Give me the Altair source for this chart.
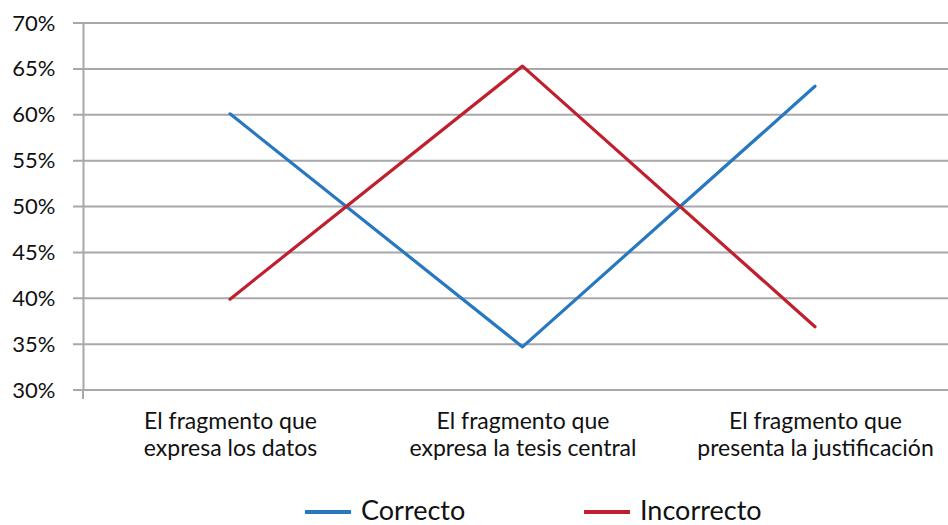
import altair as alt
import pandas as pd

categories = [
    "El fragmento que\nexpresa los datos",
    "El fragmento que\nexpresa la tesis central",
    "El fragmento que\npresenta la justificación",
]
series = ["Correcto", "Incorrecto"]
correcto = [0.601, 0.347, 0.631]
incorrecto = [0.399, 0.653, 0.369]
y_ticks = [0.30, 0.35, 0.40, 0.45, 0.50, 0.55, 0.60, 0.65, 0.70]
colors = ["#2878C0", "#C0202E"]

rows = []
for i, c in enumerate(categories):
    rows.append({"cat": c, "serie": series[0], "valor": correcto[i]})
    rows.append({"cat": c, "serie": series[1], "valor": incorrecto[i]})
df = pd.DataFrame(rows)
grid_df = pd.DataFrame({"valor": y_ticks})

W, H = 865, 367
GRID = "#A8A8AC"
FONT = "Lato"

y_scale = alt.Scale(domain=[0.3, 0.7], nice=False, zero=False)
y_axis = alt.Axis(
    title=None,
    values=y_ticks,
    format=".0%",
    ticks=False,
    labelPadding=28,
    labelFont=FONT,
    labelFontSize=22,
    labelColor="#111111",
    domainColor=GRID,
    domainWidth=2,
    grid=False,
)

grid = alt.Chart(grid_df).mark_rule(color=GRID, strokeWidth=2).encode(
    y=alt.Y("valor:Q", scale=y_scale, axis=y_axis),
    x=alt.value(-10),
    x2=alt.value(W),
)

lines = alt.Chart(df).mark_line(strokeWidth=3.2, strokeCap="round", strokeJoin="round").encode(
    x=alt.X(
        "cat:N",
        sort=categories,
        scale=alt.Scale(type="point", range=[147, 732], padding=0),
        axis=alt.Axis(
            title=None,
            labelExpr="split(datum.label, '\\n')",
            labelAngle=0,
            ticks=False,
            tickSize=0,
            labelPadding=20,
            labelLimit=500,
            labelFont=FONT,
            labelFontSize=23,
            labelLineHeight=27,
            labelColor="#111111",
            domain=False,
            grid=False,
        ),
    ),
    y=alt.Y("valor:Q", scale=y_scale, axis=y_axis),
    color=alt.Color(
        "serie:N",
        sort=series,
        scale=alt.Scale(domain=series, range=colors),
        legend=alt.Legend(
            title=None,
            orient="none",
            direction="horizontal",
            legendX=220,
            legendY=464,
            symbolType="stroke",
            symbolSize=2116,
            symbolStrokeWidth=4,
            labelFont=FONT,
            labelFontSize=27,
            labelColor="#111111",
            labelOffset=8,
            columnPadding=110,
        ),
    ),
)

stub = alt.Chart(pd.DataFrame({"k": [0]})).mark_rule(color=GRID, strokeWidth=2).encode(
    x=alt.value(0), y=alt.value(H), y2=alt.value(H + 9)
)

chart = (
    alt.layer(grid, lines, stub)
    .properties(
        width=W,
        height=H,
        autosize=alt.AutoSizeParams(type="none"),
        padding={"left": 83, "top": 23, "right": 0, "bottom": 135},
        background="white",
    )
    .configure_view(stroke=None)
)

chart.save("out.html", embed_options={"renderer": "svg", "actions": False})
